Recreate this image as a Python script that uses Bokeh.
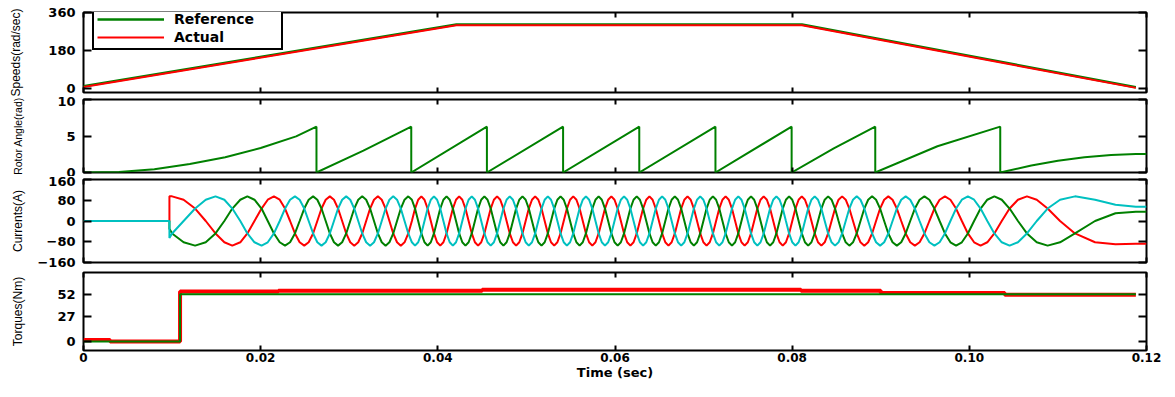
from bokeh.plotting import figure
from bokeh.models import (Range1d, FixedTicker, LinearAxis, Legend, LegendItem,
                          CustomJSTickFormatter)
from bokeh.layouts import column
from bokeh.embed import file_html
from bokeh.resources import INLINE

# ---------------- data ----------------
x_ticks = [0, 0.02, 0.04, 0.06, 0.08, 0.10, 0.12]
x_tick_labels = ["0", "0.02", "0.04", "0.06", "0.08", "0.10", "0.12"]
x_label = "Time (sec)"

spd_ticks = [0, 180, 360]
ang_ticks = [0, 5, 10]
cur_ticks = [-160, -80, 0, 80, 160]
trq_ticks = [0, 27, 52]

y_labels = ["Speeds(rad/sec)", "Rotor Angle(rad)", "Currents(A)", "Torques(Nm)"]
legend_labels = ["Reference", "Actual"]

# speeds (rad/s)
spd_t = [0.0, 0.0421, 0.0811, 0.1188]
spd_ref = [10, 303, 303, 5]
spd_act = [6, 299, 299, 2]

# rotor angle (rad)
ang_t = [0.0, 0.004, 0.008, 0.012, 0.016, 0.020, 0.024, 0.0263,
         0.0263, 0.0316, 0.0370,
         0.0370, 0.04554,
         0.04554, 0.05414,
         0.05414, 0.06274,
         0.06274, 0.07134,
         0.07134, 0.07994,
         0.07994, 0.0847, 0.08938,
         0.08938, 0.0964, 0.10349,
         0.10349, 0.107, 0.110, 0.113, 0.116, 0.1188, 0.12]
ang_v = [0.0, 0.08, 0.45, 1.15, 2.1, 3.35, 4.95, 6.28,
         0.0, 3.0, 6.28,
         0.0, 6.28,
         0.0, 6.28,
         0.0, 6.28,
         0.0, 6.28,
         0.0, 6.28,
         0.0, 3.3, 6.28,
         0.0, 3.6, 6.28,
         0.0, 0.96, 1.62, 2.1, 2.4, 2.55, 2.55]

# phase currents (A), sampled at estimated 30-degree points of each wave
cur_t = [
    0.0, 0.0097, 0.0097,
    0.0100, 0.0113, 0.0126, 0.0138, 0.0149, 0.0159, 0.0168, 0.0177, 0.0185,
    0.0193, 0.0201, 0.0208, 0.0215, 0.02215, 0.02275, 0.02332, 0.02387, 0.0244, 0.02492, 0.02542, 0.02592,
    0.026395, 0.026869, 0.027341, 0.027809, 0.028275, 0.028738, 0.029199, 0.029657, 0.030112, 0.030565, 0.031016, 0.031464,
    0.03191, 0.032353, 0.032794, 0.033233, 0.033669, 0.034104, 0.034536, 0.034966, 0.035394, 0.03582, 0.036243, 0.036665,
    0.037071, 0.037427, 0.037783, 0.038139, 0.038494, 0.03885, 0.039206, 0.039562, 0.039918, 0.040273, 0.040629, 0.040985,
    0.041341, 0.041697, 0.042053, 0.042408, 0.042764, 0.04312, 0.043476, 0.043832, 0.044188, 0.044543, 0.044899, 0.045255,
    0.045612, 0.04597, 0.046329, 0.046687, 0.047045, 0.047404, 0.047762, 0.04812, 0.048479, 0.048837, 0.049195, 0.049554,
    0.049912, 0.05027, 0.050629, 0.050987, 0.051345, 0.051704, 0.052062, 0.05242, 0.052779, 0.053137, 0.053495, 0.053854,
    0.054212, 0.05457, 0.054929, 0.055287, 0.055645, 0.056004, 0.056362, 0.05672, 0.057079, 0.057437, 0.057795, 0.058154,
    0.058512, 0.05887, 0.059229, 0.059587, 0.059945, 0.060304, 0.060662, 0.06102, 0.061379, 0.061737, 0.062095, 0.062454,
    0.062812, 0.06317, 0.063529, 0.063887, 0.064245, 0.064604, 0.064962, 0.06532, 0.065679, 0.066037, 0.066395, 0.066754,
    0.067112, 0.06747, 0.067829, 0.068187, 0.068545, 0.068904, 0.069262, 0.06962, 0.069979, 0.070337, 0.070695, 0.071054,
    0.071412, 0.07177, 0.072129, 0.072487, 0.072845, 0.073204, 0.073562, 0.07392, 0.074279, 0.074637, 0.074995, 0.075354,
    0.075712, 0.07607, 0.076429, 0.076787, 0.077145, 0.077504, 0.077862, 0.07822, 0.078579, 0.078937, 0.079295, 0.079654,
    0.080012, 0.08037, 0.080728, 0.081087, 0.081445, 0.081809, 0.082175, 0.082545, 0.082918, 0.083295, 0.083675, 0.08406,
    0.084448, 0.084841, 0.085237, 0.085638, 0.086044, 0.086454, 0.086869, 0.087289, 0.087714, 0.088144, 0.08858, 0.089022,
    0.08947, 0.089925, 0.090386, 0.090855, 0.091332, 0.091817, 0.092311, 0.092814, 0.093327, 0.09385, 0.094384, 0.09493,
    0.095488, 0.096059, 0.096645, 0.097246, 0.097864, 0.098501, 0.099157, 0.099836, 0.100538, 0.101268, 0.102029, 0.102825,
    0.10366, 0.104545, 0.105488, 0.106503, 0.10761, 0.108839, 0.110242, 0.111927, 0.11419,
    0.1165, 0.1188, 0.12,
]
cur_a = [
    0, 0, 95,
    95, 82, 48, 0, -48, -82, -95, -82, -48,
    0, 48, 82, 95, 82, 48, 0, -48, -82, -95, -82, -48,
    0, 48, 82, 95, 82, 48, 0, -48, -82, -95, -82, -48,
    0, 48, 82, 95, 82, 48, 0, -48, -82, -95, -82, -48,
    0, 48, 82, 95, 82, 48, 0, -48, -82, -95, -82, -48,
    0, 48, 82, 95, 82, 48, 0, -48, -82, -95, -82, -48,
    0, 48, 82, 95, 82, 48, 0, -48, -82, -95, -82, -48,
    0, 48, 82, 95, 82, 48, 0, -48, -82, -95, -82, -48,
    0, 48, 82, 95, 82, 48, 0, -48, -82, -95, -82, -48,
    0, 48, 82, 95, 82, 48, 0, -48, -82, -95, -82, -48,
    0, 48, 82, 95, 82, 48, 0, -48, -82, -95, -82, -48,
    0, 48, 82, 95, 82, 48, 0, -48, -82, -95, -82, -48,
    0, 48, 82, 95, 82, 48, 0, -48, -82, -95, -82, -48,
    0, 48, 82, 95, 82, 48, 0, -48, -82, -95, -82, -48,
    0, 48, 82, 95, 82, 48, 0, -48, -82, -95, -82, -48,
    0, 48, 82, 95, 82, 48, 0, -48, -82, -95, -82, -48,
    0, 48, 82, 95, 82, 48, 0, -48, -82, -95, -82, -48,
    0, 48, 82, 95, 82, 48, 0, -48, -82, -95, -82, -48,
    0, 48, 82, 95, 82, 48, 0, -48, -82,
    -90, -88, -88,
]
cur_b = [
    0, 0, -30,
    -48, -82, -95, -82, -48, 0, 48, 82, 95,
    82, 48, 0, -48, -82, -95, -82, -48, 0, 48, 82, 95,
    82, 48, 0, -48, -82, -95, -82, -48, 0, 48, 82, 95,
    82, 48, 0, -48, -82, -95, -82, -48, 0, 48, 82, 95,
    82, 48, 0, -48, -82, -95, -82, -48, 0, 48, 82, 95,
    82, 48, 0, -48, -82, -95, -82, -48, 0, 48, 82, 95,
    82, 48, 0, -48, -82, -95, -82, -48, 0, 48, 82, 95,
    82, 48, 0, -48, -82, -95, -82, -48, 0, 48, 82, 95,
    82, 48, 0, -48, -82, -95, -82, -48, 0, 48, 82, 95,
    82, 48, 0, -48, -82, -95, -82, -48, 0, 48, 82, 95,
    82, 48, 0, -48, -82, -95, -82, -48, 0, 48, 82, 95,
    82, 48, 0, -48, -82, -95, -82, -48, 0, 48, 82, 95,
    82, 48, 0, -48, -82, -95, -82, -48, 0, 48, 82, 95,
    82, 48, 0, -48, -82, -95, -82, -48, 0, 48, 82, 95,
    82, 48, 0, -48, -82, -95, -82, -48, 0, 48, 82, 95,
    82, 48, 0, -48, -82, -95, -82, -48, 0, 48, 82, 95,
    82, 48, 0, -48, -82, -95, -82, -48, 0, 48, 82, 95,
    82, 48, 0, -48, -82, -95, -82, -48, 0, 48, 82, 95,
    82, 48, 0, -48, -82, -95, -82, -48, 0,
    30, 36, 36,
]
cur_c = [
    0, 0, -66,
    -48, 0, 48, 82, 95, 82, 48, 0, -48,
    -82, -95, -82, -48, 0, 48, 82, 95, 82, 48, 0, -48,
    -82, -95, -82, -48, 0, 48, 82, 95, 82, 48, 0, -48,
    -82, -95, -82, -48, 0, 48, 82, 95, 82, 48, 0, -48,
    -82, -95, -82, -48, 0, 48, 82, 95, 82, 48, 0, -48,
    -82, -95, -82, -48, 0, 48, 82, 95, 82, 48, 0, -48,
    -82, -95, -82, -48, 0, 48, 82, 95, 82, 48, 0, -48,
    -82, -95, -82, -48, 0, 48, 82, 95, 82, 48, 0, -48,
    -82, -95, -82, -48, 0, 48, 82, 95, 82, 48, 0, -48,
    -82, -95, -82, -48, 0, 48, 82, 95, 82, 48, 0, -48,
    -82, -95, -82, -48, 0, 48, 82, 95, 82, 48, 0, -48,
    -82, -95, -82, -48, 0, 48, 82, 95, 82, 48, 0, -48,
    -82, -95, -82, -48, 0, 48, 82, 95, 82, 48, 0, -48,
    -82, -95, -82, -48, 0, 48, 82, 95, 82, 48, 0, -48,
    -82, -95, -82, -48, 0, 48, 82, 95, 82, 48, 0, -48,
    -82, -95, -82, -48, 0, 48, 82, 95, 82, 48, 0, -48,
    -82, -95, -82, -48, 0, 48, 82, 95, 82, 48, 0, -48,
    -82, -95, -82, -48, 0, 48, 82, 95, 82, 48, 0, -48,
    -82, -95, -82, -48, 0, 48, 82, 95, 82,
    63, 55, 55,
]

# torques (Nm)
trq_ref_t = [0.0, 0.0109, 0.0109, 0.1188]
trq_ref = [0, 0, 52, 52]
trq_act_t = [0.0, 0.003, 0.003, 0.0109, 0.0109, 0.022, 0.022, 0.045, 0.045,
             0.081, 0.081, 0.090, 0.090, 0.104, 0.104, 0.1188]
trq_act = [1.5, 1.5, 0, 0, 55, 55, 56, 56, 57, 57, 56, 56, 53.5, 53.5, 51.5, 51.5]

if not (len(cur_t) == len(cur_a) == len(cur_b) == len(cur_c)):
    raise ValueError("current lengths %d %d %d %d" % (len(cur_t), len(cur_a), len(cur_b), len(cur_c)))

# ---------------- styling ----------------
GREEN = "#008000"
RED = "#ff0000"
CYAN = "#00c0c0"
TICK_FONT = "DejaVu Sans"
LAB_FONT = "Liberation Sans"

xr = Range1d(0, 0.12)
xfmt = CustomJSTickFormatter(args=dict(tv=x_ticks, tl=x_tick_labels), code="""
for (let i = 0; i < tv.length; i++) { if (Math.abs(tv[i] - tick) < 1e-9) return tl[i]; }
return "";
""")


def style_axis(ax, tick_len, show_labels, size="13px"):
    ax.axis_line_color = None
    ax.major_tick_in = tick_len
    ax.major_tick_out = 0
    ax.minor_tick_in = 0
    ax.minor_tick_out = 0
    ax.major_tick_line_color = "black"
    ax.major_tick_line_width = 2
    if show_labels:
        ax.major_label_text_font = TICK_FONT
        ax.major_label_text_font_style = "bold"
        ax.major_label_text_font_size = size
        ax.major_label_text_color = "black"
    else:
        ax.major_label_text_font_size = "1px"
        ax.major_label_text_color = None
        ax.major_label_standoff = 0


def panel(ylim, yticks, ylabel, fh, btop, bbot, lab_standoff, lab_size="12px", xlabels=False):
    p = figure(frame_width=1063, frame_height=fh, x_range=xr, y_range=Range1d(*ylim),
               output_backend="svg", toolbar_location=None,
               x_axis_location=None, y_axis_location=None,
               min_border_left=83, min_border_right=29,
               min_border_top=btop, min_border_bottom=bbot)
    p.outline_line_color = "black"
    p.outline_line_width = 2
    p.outline_line_alpha = 1
    p.background_fill_color = "white"
    p.border_fill_color = "white"
    p.grid.grid_line_color = None

    yt = FixedTicker(ticks=yticks, minor_ticks=[])
    xt = FixedTicker(ticks=x_ticks, minor_ticks=[])

    left = LinearAxis(ticker=yt, axis_label=ylabel)
    style_axis(left, 8, True)
    left.major_label_standoff = 8
    left.axis_label_text_font = LAB_FONT
    left.axis_label_text_font_style = "normal"
    left.axis_label_text_font_size = lab_size
    left.axis_label_text_color = "black"
    left.axis_label_standoff = lab_standoff
    p.add_layout(left, "left")

    right = LinearAxis(ticker=yt)
    style_axis(right, 8, False)
    p.add_layout(right, "right")

    top = LinearAxis(ticker=xt)
    style_axis(top, 5, False)
    p.add_layout(top, "above")

    bottom = LinearAxis(ticker=xt, formatter=xfmt)
    style_axis(bottom, 5, xlabels, size="12px")
    if xlabels:
        bottom.major_label_standoff = 2
        bottom.axis_label = x_label
        bottom.axis_label_standoff = 0
        bottom.axis_label_text_font = TICK_FONT
        bottom.axis_label_text_font_style = "bold"
        bottom.axis_label_text_font_size = "13px"
        bottom.axis_label_text_color = "black"
    p.add_layout(bottom, "below")
    return p


# speeds
p1 = panel((-20, 360), spd_ticks, y_labels[0], 80, 12, 4, 22)
r_ref = p1.line(spd_t, spd_ref, line_color=GREEN, line_width=2.5)
r_act = p1.line(spd_t, spd_act, line_color=RED, line_width=2)
leg = Legend(items=[LegendItem(label=legend_labels[0], renderers=[r_ref]),
                    LegendItem(label=legend_labels[1], renderers=[r_act])],
             location=(9, 42), orientation="vertical",
             glyph_width=67, glyph_height=14, label_height=14, label_width=104,
             label_standoff=10, spacing=2, padding=3, margin=0,
             border_line_color="black", border_line_width=2, border_line_alpha=1,
             background_fill_color="white", background_fill_alpha=1,
             label_text_font=TICK_FONT, label_text_font_style="bold",
             label_text_font_size="14px", label_text_color="black")
p1.add_layout(leg)

# rotor angle
p2 = panel((0, 10), ang_ticks, y_labels[1], 73, 3, 4, 30, lab_size="10.5px")
p2.line(ang_t, ang_v, line_color=GREEN, line_width=2)

# currents
p3 = panel((-160, 160), cur_ticks, y_labels[2], 83, 3, 5, 9)
p3.line(cur_t, cur_a, line_color=RED, line_width=2)
p3.line(cur_t, cur_b, line_color=GREEN, line_width=2)
p3.line(cur_t, cur_c, line_color=CYAN, line_width=2)

# torques
p4 = panel((-10, 76), trq_ticks, y_labels[3], 78, 5, 31, 29, xlabels=True)
p4.line(trq_act_t, trq_act, line_color=RED, line_width=4)
p4.line(trq_ref_t, trq_ref, line_color=GREEN, line_width=2)

layout = column(p1, p2, p3, p4, spacing=0)
open("out.html", "w").write(file_html(layout, INLINE))
